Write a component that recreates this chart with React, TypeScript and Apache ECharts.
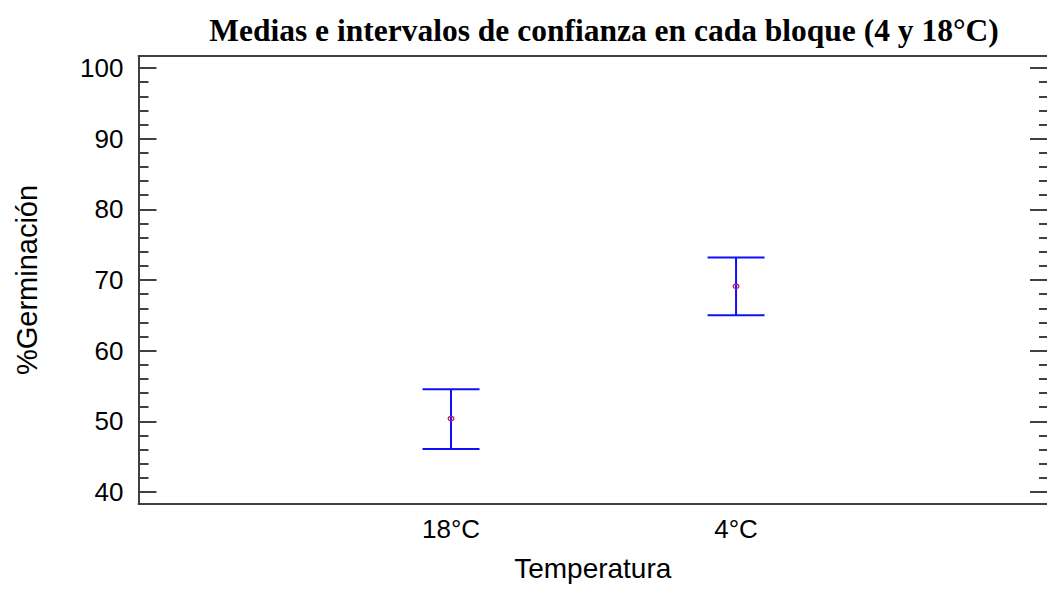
import React, { useEffect, useRef } from "react";
import * as echarts from "echarts";

const categories = ["18°C", "4°C"];
const means = [50.4, 69.1];
const lowers = [46.1, 65.0];
const uppers = [54.55, 73.2];
const majorTicks = [40, 50, 60, 70, 80, 90, 100];
const minorTicks = [42, 44, 46, 48, 52, 54, 56, 58, 62, 64, 66, 68, 72, 74, 76, 78, 82, 84, 86, 88, 92, 94, 96, 98];

const Y_MIN = 38.3;
const Y_MAX = 101.7;
const X_MIN = -0.0965;
const X_MAX = 3.091;

export default function App() {
  const ref = useRef<HTMLDivElement>(null);
  useEffect(() => {
    if (!ref.current) return;
    const chart = echarts.init(ref.current, null, { renderer: "svg" });
    const data = categories.map((c, i) => [i + 1, lowers[i], uppers[i], means[i]]);
    const axisColor = "#404040";
    const font = "'Liberation Sans', Arial, sans-serif";
    const yBase = (extra: any) => ({
      type: "value",
      min: Y_MIN,
      max: Y_MAX,
      offset: 0,
      splitLine: { show: false },
      ...extra,
    });
    chart.setOption({
      animation: false,
      backgroundColor: "#ffffff",
      title: {
        text: "Medias e intervalos de confianza en cada bloque (4 y 18°C)",
        left: 599,
        top: 9,
        textAlign: "center",
        textStyle: {
          fontFamily: "'Liberation Serif', 'Times New Roman', serif",
          fontWeight: "bold",
          fontSize: 31.5,
          color: "#000",
        },
      },
      grid: { left: 138.5, top: 56, right: 0, bottom: 88, containLabel: false, outerBoundsMode: "none" },
      xAxis: [
        {
          type: "value",
          min: X_MIN,
          max: X_MAX,
          position: "bottom",
          offset: 0,
          name: "Temperatura",
          nameLocation: "middle",
          nameGap: 50,
          nameTextStyle: { fontFamily: font, fontSize: 28, color: "#000" },
          axisLine: { show: true, onZero: false, lineStyle: { color: axisColor, width: 2 } },
          axisTick: { show: false },
          splitLine: { show: false },
          axisLabel: {
            customValues: [1, 2],
            formatter: (v: number) => categories[Math.round(v) - 1] ?? "",
            fontFamily: font,
            fontSize: 26,
            color: "#000",
            margin: 12,
          },
        },
        {
          type: "value",
          min: X_MIN,
          max: X_MAX,
          position: "top",
          offset: 0,
          axisLine: { show: true, onZero: false, lineStyle: { color: axisColor, width: 2 } },
          axisTick: { show: false },
          axisLabel: { show: false },
          splitLine: { show: false },
        },
      ],
      yAxis: [
        yBase({
          position: "left",
          name: "%Germinación",
          nameLocation: "middle",
          nameGap: 97,
          nameTextStyle: { fontFamily: font, fontSize: 29, color: "#000" },
          axisLine: { show: true, onZero: false, lineStyle: { color: axisColor, width: 2 } },
          axisTick: {
            show: true,
            inside: true,
            length: 18,
            customValues: majorTicks,
            lineStyle: { color: axisColor, width: 2 },
          },
          axisLabel: {
            customValues: majorTicks,
            fontFamily: font,
            fontSize: 26,
            color: "#000",
            margin: 15,
          },
        }),
        yBase({
          position: "left",
          axisLine: { show: false, onZero: false },
          axisTick: {
            show: true,
            inside: true,
            length: 10,
            customValues: minorTicks,
            lineStyle: { color: axisColor, width: 2 },
          },
          axisLabel: { show: false },
        }),
        yBase({
          position: "right",
          axisLine: { show: false, onZero: false },
          axisTick: {
            show: true,
            inside: true,
            length: 17,
            customValues: majorTicks,
            lineStyle: { color: axisColor, width: 2 },
          },
          axisLabel: { show: false },
        }),
        yBase({
          position: "right",
          axisLine: { show: false, onZero: false },
          axisTick: {
            show: true,
            inside: true,
            length: 8,
            customValues: minorTicks,
            lineStyle: { color: axisColor, width: 2 },
          },
          axisLabel: { show: false },
        }),
      ],
      series: [
        {
          type: "custom",
          xAxisIndex: 0,
          yAxisIndex: 0,
          data,
          renderItem: (params: any, api: any) => {
            const x = api.value(0);
            const lo = api.coord([x, api.value(1)]);
            const hi = api.coord([x, api.value(2)]);
            const mid = api.coord([x, api.value(3)]);
            const half = 28.5;
            const stroke = { stroke: "#1010f8", lineWidth: 2 };
            return {
              type: "group",
              children: [
                { type: "line", shape: { x1: lo[0], y1: lo[1], x2: hi[0], y2: hi[1] }, style: stroke },
                { type: "line", shape: { x1: hi[0] - half, y1: hi[1], x2: hi[0] + half, y2: hi[1] }, style: stroke },
                { type: "line", shape: { x1: lo[0] - half, y1: lo[1], x2: lo[0] + half, y2: lo[1] }, style: stroke },
                {
                  type: "ellipse",
                  shape: { cx: mid[0], cy: mid[1], rx: 2.8, ry: 2.2 },
                  style: { fill: "none", stroke: "#b0206a", lineWidth: 1.2 },
                },
              ],
            };
          },
        },
      ],
    });
    return () => chart.dispose();
  }, []);
  return (
    <div
      ref={ref}
      style={{ position: "fixed", left: 0, top: 0, width: 1047, height: 592, background: "#fff" }}
    />
  );
}
